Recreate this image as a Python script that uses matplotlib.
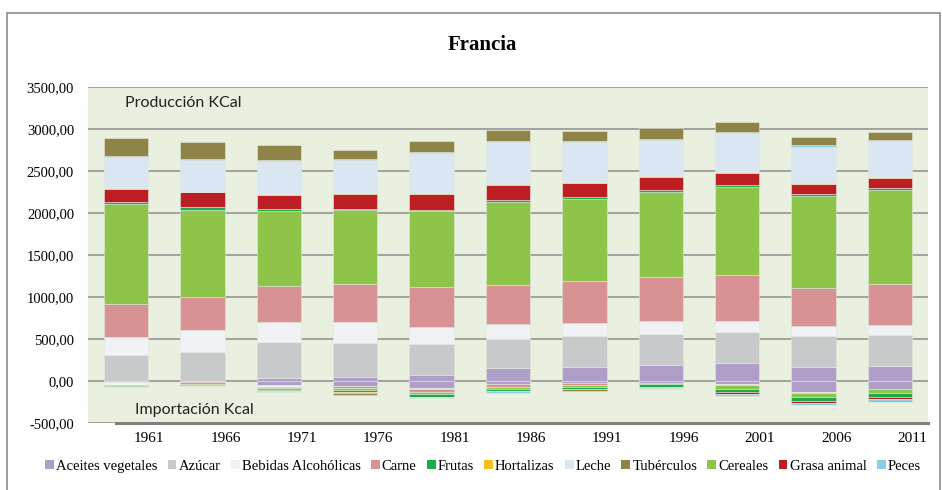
#%% Imports
import numpy as np
import matplotlib
matplotlib.use('Agg')
import matplotlib.pyplot as plt
from matplotlib.patches import Patch, Rectangle
from matplotlib.ticker import FuncFormatter

#%% Data (kcal, produccion positiva / importacion negativa)
years = ['1961', '1966', '1971', '1976', '1981', '1986', '1991', '1996', '2001', '2006', '2011']

# produccion
aceites = [8, 5, 40, 52, 76, 160, 172, 196, 220, 176, 188]
azucar = [304, 348, 428, 404, 364, 340, 364, 368, 372, 360, 364]
bebidas = [220, 252, 240, 248, 208, 188, 164, 156, 128, 128, 120]
carne = [388, 396, 428, 452, 480, 460, 496, 524, 540, 444, 484]
cereales = [1196, 1040, 888, 884, 904, 992, 980, 1012, 1052, 1096, 1116]
frutas = [16, 36, 32, 16, 12, 24, 16, 20, 20, 20, 24]
grasa = [152, 172, 156, 172, 184, 168, 164, 152, 152, 120, 124]
hortalizas = [12, 8, 12, 8, 8, 12, 12, 12, 12, 12, 12]
leche = [372, 380, 396, 396, 476, 500, 484, 432, 460, 436, 424]
peces = [12, 12, 12, 12, 12, 12, 8, 8, 8, 16, 12]
tuberculos = [212, 196, 180, 112, 136, 136, 124, 136, 128, 100, 100]

# importacion
aceites_imp = [-8, -12, -44, -52, -80, -32, -24, -16, -36, -128, -96]
azucar_imp = [0, 0, 0, 0, 0, 0, 0, 0, 0, 0, 0]
bebidas_imp = [-40, 0, -20, 0, -16, 0, 0, 0, -12, -16, 0]
carne_imp = [0, -16, -16, -24, -32, -40, -24, 0, 0, 0, 0]
cereales_imp = [-12, -12, -20, -32, -28, -24, -24, -16, -48, -40, -48]
frutas_imp = [-12, -12, -12, -20, -28, -20, -16, -32, -28, -48, -48]
grasa_imp = [0, 0, 0, 0, 0, 0, 0, 0, -28, -32, -24]
hortalizas_imp = [0, -4, 0, -8, 0, 0, -8, -16, 0, 0, 0]
leche_imp = [0, 0, 0, 0, 0, 0, 0, 0, 0, 0, 0]
peces_imp = [0, 0, -20, 0, -16, -24, 0, -16, -20, -24, -28]
tuberculos_imp = [0, 0, 0, -28, 0, 0, -24, 0, 0, 0, 0]

# orden de apilado (alfabetico)
series = [
    ('Aceites vegetales', aceites, aceites_imp, '#ae9ec8'),
    ('Azúcar', azucar, azucar_imp, '#c8c9cb'),
    ('Bebidas Alcohólicas', bebidas, bebidas_imp, '#f1f2f5'),
    ('Carne', carne, carne_imp, '#d99294'),
    ('Cereales', cereales, cereales_imp, '#8dc449'),
    ('Frutas', frutas, frutas_imp, '#1aab4a'),
    ('Grasa animal', grasa, grasa_imp, '#bc1e23'),
    ('Hortalizas', hortalizas, hortalizas_imp, '#f7bf1e'),
    ('Leche', leche, leche_imp, '#dae6f1'),
    ('Peces', peces, peces_imp, '#8ccfe0'),
    ('Tubérculos', tuberculos, tuberculos_imp, '#8e8447'),
]
legend_order = ['Aceites vegetales', 'Azúcar', 'Bebidas Alcohólicas', 'Carne', 'Frutas',
                'Hortalizas', 'Leche', 'Tubérculos', 'Cereales', 'Grasa animal', 'Peces']

#%% Plot
serif = ['Liberation Serif', 'DejaVu Serif']
sans = ['Lato', 'Open Sans', 'DejaVu Sans']

fig = plt.figure(figsize=(9.42, 4.9), dpi=100)
ax = fig.add_axes([88 / 942, 1 - 423.3 / 490, 840 / 942, 336 / 490])
ax.set_facecolor('#eaf0df')

x = np.arange(len(years))
pos = np.zeros(len(years))
neg = np.zeros(len(years))
colors = {}
for name, vals, imp, col in series:
    vals = np.array(vals, dtype=float)
    imp = np.array(imp, dtype=float)
    ax.bar(x, vals, 0.58, bottom=pos, color=col, edgecolor='#e4e8dc', linewidth=0.4, zorder=3)
    ax.bar(x, imp, 0.58, bottom=neg, color=col, edgecolor='#e4e8dc', linewidth=0.4, zorder=3)
    pos += vals
    neg += imp
    colors[name] = col

ax.set_xlim(-0.5, len(years) - 0.5)
ax.set_ylim(-500, 3500)
ax.set_yticks(np.arange(-500, 3501, 500))
ax.yaxis.set_major_formatter(FuncFormatter(lambda v, p: f'{v:.2f}'.replace('.', ',')))
ax.grid(axis='y', color='#9c9c9c', linewidth=1.3, zorder=1)
ax.set_xticks(x + 0.3)
ax.set_xticklabels(years)
ax.tick_params(length=0)
ax.tick_params(axis='y', pad=10, labelsize=10.5)
ax.tick_params(axis='x', pad=6, labelsize=11)
for lab in ax.get_xticklabels() + ax.get_yticklabels():
    lab.set_family(serif)

for s in ['top', 'right', 'left']:
    ax.spines[s].set_visible(False)
ax.spines['bottom'].set_color('#808080')
ax.spines['bottom'].set_linewidth(2.2)
ax.spines['bottom'].set_bounds(-0.13, len(years) - 0.5)
ax.spines['bottom'].set_zorder(4)

ax.text(0.044, 0.952, 'Producción KCal', transform=ax.transAxes, fontsize=11.5,
        family=sans, va='center', ha='left', color='#222222', zorder=5)
ax.text(0.056, 0.04, 'Importación Kcal', transform=ax.transAxes, fontsize=11.5,
        family=sans, va='center', ha='left', color='#222222', zorder=5)

fig.text(482 / 942, 1 - 45 / 490, 'Francia', fontsize=15, fontweight='bold',
         family=serif, ha='center', va='center')

# marco exterior
fig.patches.append(Rectangle((7 / 942, -0.05), 933 / 942, 1.05 - 13 / 490,
                             transform=fig.transFigure, fill=False,
                             edgecolor='#8c8c8c', linewidth=1.2))

handles = [Patch(facecolor=colors[n], edgecolor='none') for n in legend_order]
fig.legend(handles, legend_order, loc='center', bbox_to_anchor=(483 / 942, 1 - 466 / 490),
           ncol=len(legend_order), frameon=False, prop={'family': serif, 'size': 10.5},
           handlelength=0.6, handleheight=0.6, handletextpad=0.15, columnspacing=0.7)

fig.savefig('out.png', dpi=100)
